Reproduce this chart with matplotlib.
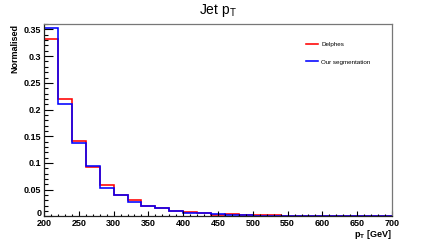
import numpy as np
import matplotlib
matplotlib.use("Agg")
import matplotlib.pyplot as plt
import matplotlib.transforms as mtransforms
from matplotlib.ticker import MultipleLocator

plt.rcParams['font.family'] = ['Liberation Sans', 'DejaVu Sans']

# Binning: 20 GeV bins from 200 to 700
edges = np.arange(200, 701, 20)

# Normalised jet pT distributions
delphes = [0.333, 0.219, 0.142, 0.092, 0.058, 0.040, 0.030, 0.019, 0.016, 0.010,
           0.009, 0.006, 0.003, 0.004, 0.002, 0.002, 0.002, 0.001, 0.001, 0.001,
           0.001, 0.001, 0.0005, 0.0005, 0.0005]
segmentation = [0.352, 0.210, 0.138, 0.094, 0.054, 0.041, 0.027, 0.020, 0.016, 0.010,
                0.007, 0.006, 0.004, 0.002, 0.002, 0.001, 0.001, 0.001, 0.001, 0.001,
                0.001, 0.001, 0.001, 0.001, 0.001]

fig = plt.figure(figsize=(4.36, 2.41), dpi=100)
ax = fig.add_axes([0.101, 0.102, 0.798, 0.798])

ax.stairs(delphes, edges, color='#ff0000', lw=1.15, label='Delphes')
ax.stairs(segmentation, edges, color='#0000ff', lw=1.15, label='Our segmentation')

ax.set_xlim(200, 700)
ax.set_ylim(0, 0.36)

ax.xaxis.set_major_locator(MultipleLocator(50))
ax.xaxis.set_minor_locator(MultipleLocator(10))
ax.yaxis.set_major_locator(MultipleLocator(0.05))
ax.yaxis.set_minor_locator(MultipleLocator(0.01))
ax.yaxis.set_major_formatter(plt.FuncFormatter(lambda v, p: ('%g' % round(v, 2))))

ax.tick_params(axis='both', which='both', direction='in', top=False, right=False,
               labelsize=6.5, width=0.8)
ax.tick_params(axis='y', which='major', length=6.5, pad=2)
ax.tick_params(axis='y', which='minor', length=3.2)
ax.tick_params(axis='x', which='major', length=3.4, pad=1.5)
ax.tick_params(axis='x', which='minor', length=1.8)
for lab in ax.get_xticklabels() + ax.get_yticklabels():
    lab.set_fontweight('bold')

# lift the "0" label a little so it clears the "200" below it
fig.canvas.draw()
for lab in ax.get_yticklabels():
    if lab.get_text() == '0':
        lab.set_transform(lab.get_transform() +
                          mtransforms.ScaledTranslation(0, 3 / 72, fig.dpi_scale_trans))

for s in ['left', 'bottom']:
    ax.spines[s].set_color('#222222')
    ax.spines[s].set_linewidth(0.9)
for s in ['top', 'right']:
    ax.spines[s].set_color('#777777')
    ax.spines[s].set_linewidth(0.9)

ax.set_xlabel('p$_\\mathregular{T}$ [GeV]', fontsize=6.5, fontweight='bold', loc='right', labelpad=0)
ax.set_ylabel('Normalised', fontsize=6.5, fontweight='bold', loc='top', labelpad=3)

fig.text(0.5, 0.955, 'Jet p$_\\mathregular{T}$', fontsize=10, ha='center', va='center')

ax.legend(frameon=False, fontsize=4.5, loc='upper left', bbox_to_anchor=(0.745, 0.92),
          handlelength=2.0, handletextpad=0.5, labelspacing=1.9, borderaxespad=0)

fig.savefig('out.png', dpi=100)
